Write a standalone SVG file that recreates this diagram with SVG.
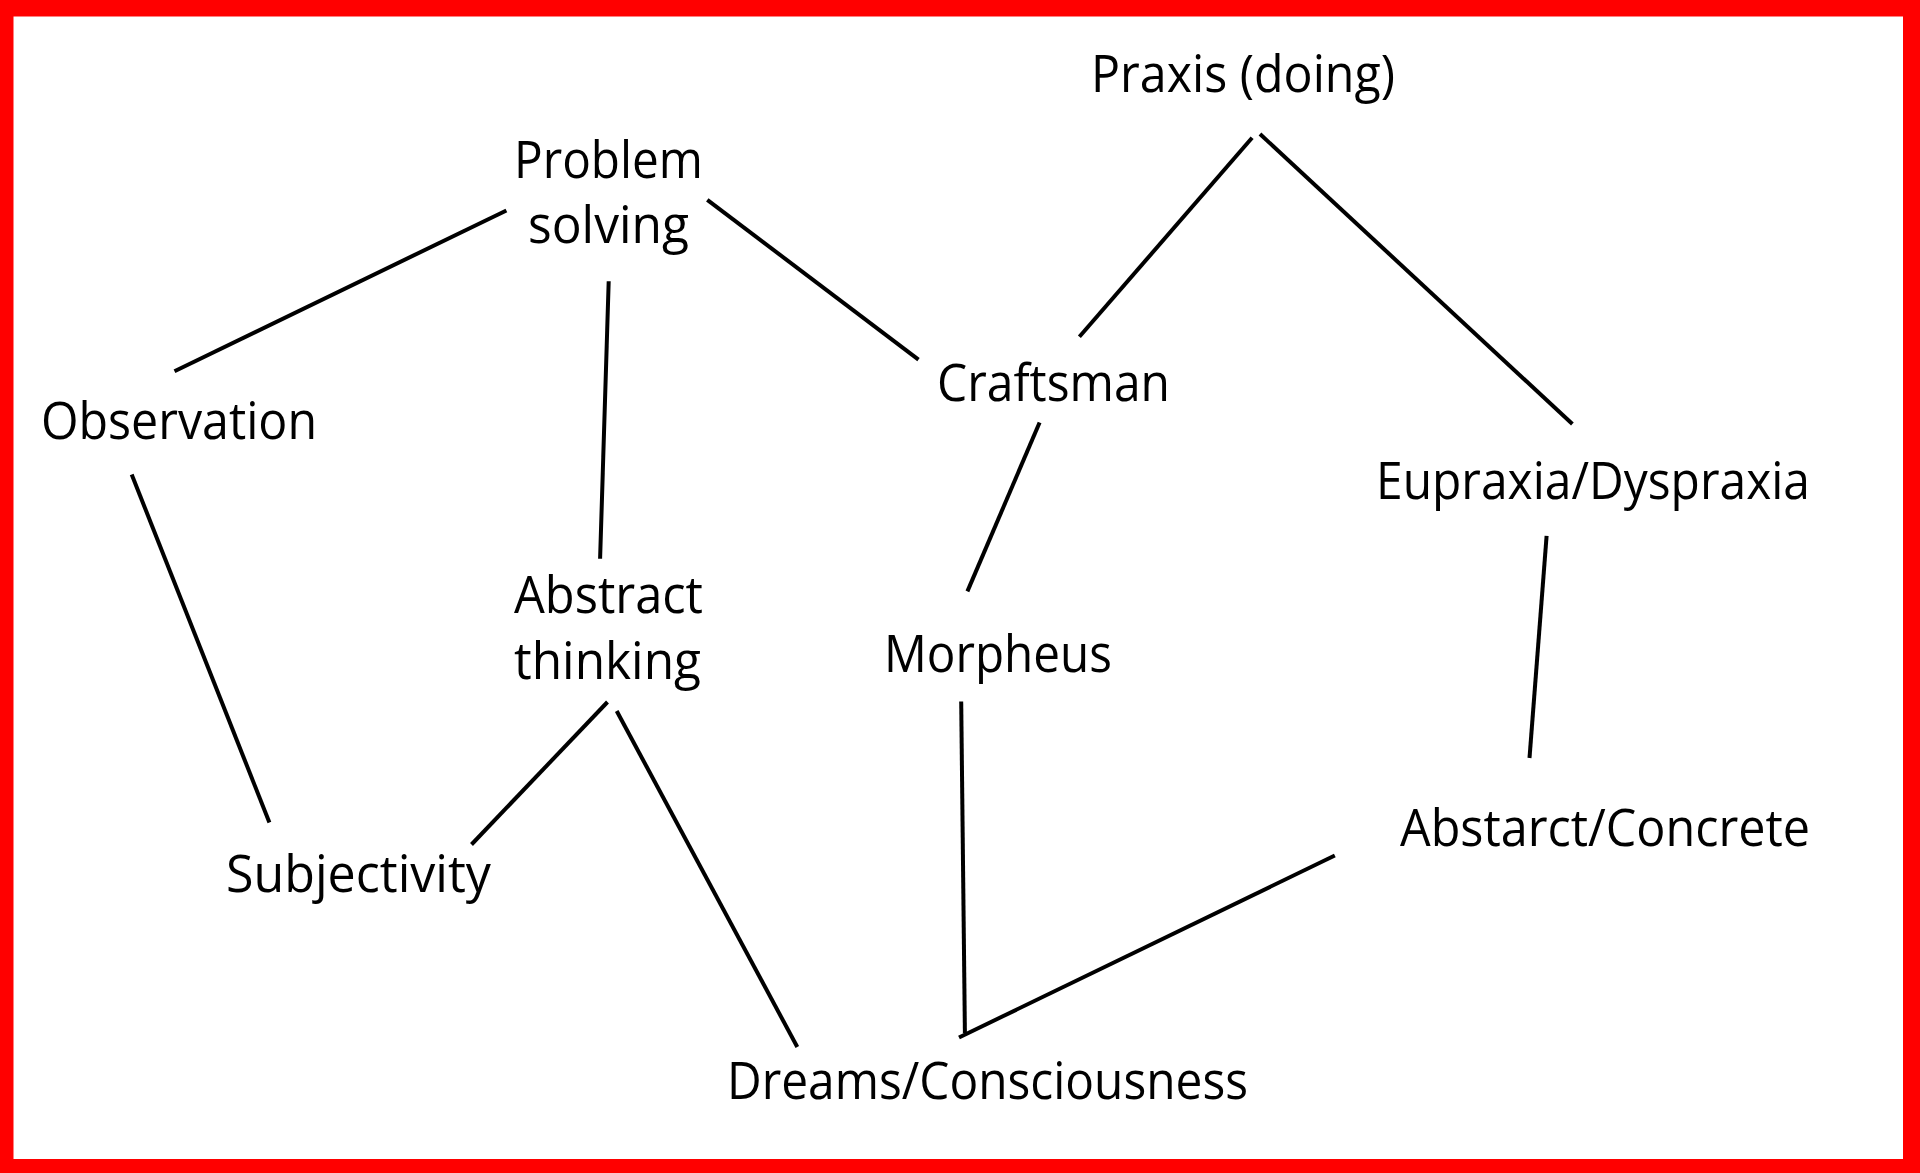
<svg xmlns="http://www.w3.org/2000/svg" width="1920" height="1173" viewBox="0 0 1920 1173">
<style>
.lbl{font-family:"Open Sans","Noto Sans","Liberation Sans",sans-serif;font-size:51px;fill:#000}
.edge{stroke:#000;stroke-width:4;fill:none}
</style>
<rect x="0" y="0" width="1920" height="1173" fill="#ff0000"/>
<rect x="13.5" y="16.5" width="1889.5" height="1142.5" fill="#ffffff"/>
<g id="connectors">
<line class="edge" x1="506.4" y1="210.5" x2="174.5" y2="371.2"/>
<line class="edge" x1="707.3" y1="199.8" x2="918.5" y2="359.7"/>
<line class="edge" x1="608.7" y1="281.3" x2="600.1" y2="558.7"/>
<line class="edge" x1="131.7" y1="474.5" x2="269.4" y2="822.5"/>
<line class="edge" x1="1252.1" y1="137.8" x2="1079.4" y2="336.8"/>
<line class="edge" x1="1260" y1="134" x2="1572.4" y2="424"/>
<line class="edge" x1="1039.6" y1="422.5" x2="967.4" y2="591.4"/>
<line class="edge" x1="1546.6" y1="535.8" x2="1529.5" y2="758"/>
<line class="edge" x1="607.5" y1="702" x2="471.5" y2="844.5"/>
<line class="edge" x1="616.7" y1="711" x2="797.3" y2="1047"/>
<line class="edge" x1="961.2" y1="701.6" x2="964.9" y2="1033"/>
<line class="edge" x1="1334.8" y1="855.5" x2="959" y2="1037.5"/>
</g>
<g id="praxis"><text class="lbl" x="1091" y="92" textLength="304" lengthAdjust="spacingAndGlyphs">Praxis (doing)</text></g>
<g id="problem-solving"><text class="lbl" x="514" y="178" textLength="189" lengthAdjust="spacingAndGlyphs">Problem</text><text class="lbl" x="528" y="243" textLength="161" lengthAdjust="spacingAndGlyphs">solving</text></g>
<g id="observation"><text class="lbl" x="41" y="439" textLength="276" lengthAdjust="spacingAndGlyphs">Observation</text></g>
<g id="craftsman"><text class="lbl" x="937" y="401" textLength="233" lengthAdjust="spacingAndGlyphs">Craftsman</text></g>
<g id="eupraxia"><text class="lbl" x="1376" y="499" textLength="434" lengthAdjust="spacingAndGlyphs">Eupraxia/Dyspraxia</text></g>
<g id="abstract-thinking"><text class="lbl" x="514" y="613" textLength="189" lengthAdjust="spacingAndGlyphs">Abstract</text><text class="lbl" x="514" y="679" textLength="187" lengthAdjust="spacingAndGlyphs">thinking</text></g>
<g id="morpheus"><text class="lbl" x="884" y="672" textLength="228" lengthAdjust="spacingAndGlyphs">Morpheus</text></g>
<g id="subjectivity"><text class="lbl" x="226" y="892" textLength="265" lengthAdjust="spacingAndGlyphs">Subjectivity</text></g>
<g id="abstract-concrete"><text class="lbl" x="1400" y="846" textLength="410" lengthAdjust="spacingAndGlyphs">Abstarct/Concrete</text></g>
<g id="dreams"><text class="lbl" x="727" y="1099" textLength="521" lengthAdjust="spacingAndGlyphs">Dreams/Consciousness</text></g>
</svg>
